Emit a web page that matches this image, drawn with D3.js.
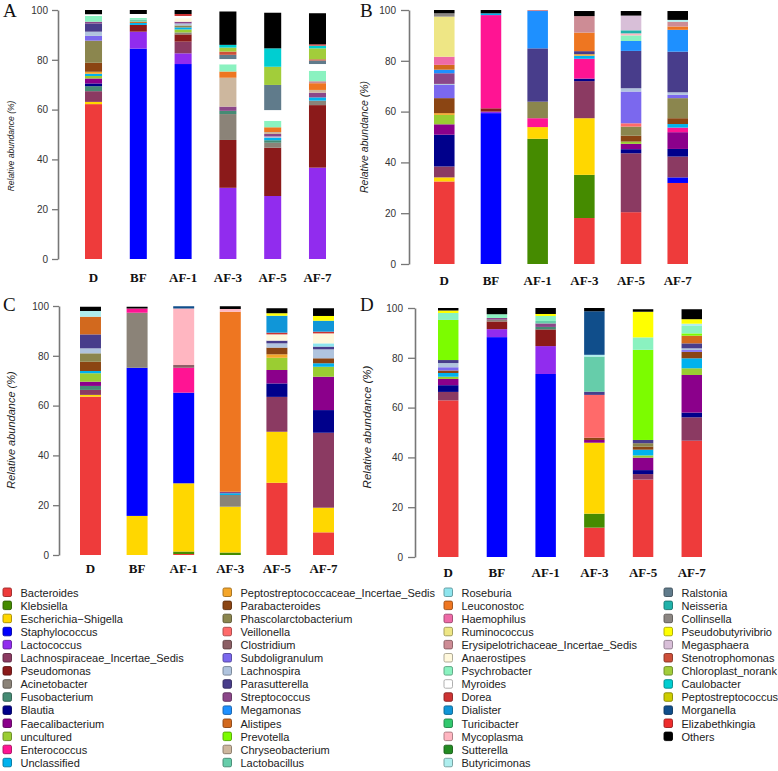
<!DOCTYPE html>
<html><head><meta charset="utf-8">
<script src="https://cdn.jsdelivr.net/npm/d3@7"></script>
<style>body{margin:0;background:#fff}svg{display:block}</style>
</head><body>
<svg id="c" width="778" height="771"></svg>
<script>
const samples = ["D","BF","AF-1","AF-3","AF-5","AF-7"];
const taxa = ["Bacteroides","Klebsiella","Escherichia-Shigella","Staphylococcus","Lactococcus","Lachnospiraceae_Incertae_Sedis","Pseudomonas","Acinetobacter","Fusobacterium","Blautia","Faecalibacterium","uncultured","Enterococcus","Unclassified",
"Peptostreptococcaceae_Incertae_Sedis","Parabacteroides","Phascolarctobacterium","Veillonella","Clostridium","Subdoligranulum","Lachnospira","Parasutterella","Streptococcus","Megamonas","Alistipes","Prevotella","Chryseobacterium","Lactobacillus",
"Roseburia","Leuconostoc","Haemophilus","Ruminococcus","Erysipelotrichaceae_Incertae_Sedis","Anaerostipes","Psychrobacter","Myroides","Dorea","Dialister","Turicibacter","Mycoplasma","Sutterella","Butyricimonas",
"Ralstonia","Neisseria","Collinsella","Pseudobutyrivibrio","Megasphaera","Stenotrophomonas","Chloroplast_norank","Caulobacter","Peptostreptococcus","Morganella","Elizabethkingia","Others"];
const taxaColors = ["#EE3B3B","#458B00","#FFD700","#0000FF","#912CEE","#8B3A62","#8B1A1A","#8B8378","#458B74","#00008B","#8B008B","#9ACD32","#FF1493","#00B2EE",
"#F4A62A","#8B4513","#8B864E","#FF6A6A","#8B5F65","#7B68EE","#B0C4DE","#483D8B","#8B4789","#1E90FF","#D2691E","#7CFC00","#CDB79E","#66CDAA",
"#8EE5EE","#EE7621","#EE6AA7","#EEE685","#CD8C95","#FFF8DC","#8AF2C0","#FFFFFF","#CD3333","#1096D8","#32C86E","#FFB6C1","#228B22","#AEEEEE",
"#607B8B","#20B2AA","#8B8682","#FFFF00","#D8BFD8","#CD4F39","#A2CD3A","#00CED1","#CDCD00","#104E8B","#EE2C2C","#000000"];
const yTicks = [0,20,40,60,80,100];

// Panel A: one list per sample (D, BF, AF-1, AF-3, AF-5, AF-7)
const panelA = [
 [["Bacteroides",62.2],["Escherichia-Shigella",0.9],["Lachnospiraceae_Incertae_Sedis",4.3],["Fusobacterium",2.0],["Blautia",1.1],["Faecalibacterium",2.0],["uncultured",1.0],["Unclassified",0.9],["Peptostreptococcaceae_Incertae_Sedis",0.8],["Parabacteroides",3.6],["Phascolarctobacterium",8.9],["Subdoligranulum",1.9],["Lachnospira",1.7],["Parasutterella",3.3],["Streptococcus",0.7],["Psychrobacter",2.3],["Myroides",0.7],["Others",1.7]],
 [["Staphylococcus",84.5],["Lactococcus",6.8],["Pseudomonas",2.7],["Unclassified",0.8],["Alistipes",0.5],["Lactobacillus",0.9],["Psychrobacter",0.6],["Myroides",1.6],["Others",1.6]],
 [["Staphylococcus",78.3],["Lactococcus",4.3],["Lachnospiraceae_Incertae_Sedis",4.7],["Pseudomonas",2.9],["Acinetobacter",0.8],["uncultured",1.2],["Unclassified",0.8],["Phascolarctobacterium",0.8],["Lachnospira",0.8],["Streptococcus",0.7],["Anaerostipes",1.4],["Myroides",0.9],["Dorea",0.8],["Others",1.6]],
 [["Lactococcus",28.6],["Pseudomonas",19.2],["Acinetobacter",10.4],["Fusobacterium",1.3],["Streptococcus",1.7],["Chryseobacterium",11.6],["Leuconostoc",2.5],["Psychrobacter",2.9],["Myroides",2.1],["Ralstonia",1.7],["Stenotrophomonas",1.3],["Chloroplast_norank",1.6],["Caulobacter",1.1],["Others",13.4]],
 [["Lactococcus",25.3],["Pseudomonas",19.4],["Acinetobacter",2.0],["Fusobacterium",1.0],["Unclassified",0.9],["Lachnospira",0.6],["Streptococcus",1.0],["Chryseobacterium",0.8],["Leuconostoc",1.9],["Psychrobacter",2.6],["Myroides",4.3],["Ralstonia",10.1],["Chloroplast_norank",7.3],["Caulobacter",7.4],["Others",14.3]],
 [["Lactococcus",36.7],["Pseudomonas",25.1],["Acinetobacter",1.8],["Unclassified",1.3],["Streptococcus",1.9],["Chryseobacterium",1.1],["Leuconostoc",2.7],["Erysipelotrichaceae_Incertae_Sedis",0.8],["Psychrobacter",4.2],["Myroides",2.7],["Ralstonia",1.4],["Stenotrophomonas",0.5],["Chloroplast_norank",4.4],["Caulobacter",1.1],["Elizabethkingia",0.5],["Others",12.5]]
];
const panelB = [
 [["Bacteroides",32.5],["Escherichia-Shigella",1.6],["Lachnospiraceae_Incertae_Sedis",4.3],["Blautia",12.5],["Faecalibacterium",4.1],["uncultured",3.7],["Peptostreptococcaceae_Incertae_Sedis",0.7],["Parabacteroides",5.9],["Subdoligranulum",5.2],["Lachnospira",0.4],["Streptococcus",4.2],["Megamonas",1.4],["Alistipes",1.9],["Haemophilus",3.2],["Ruminococcus",15.8],["Collinsella",1.3],["Others",1.3]],
 [["Staphylococcus",59.4],["Lactococcus",0.6],["Pseudomonas",1.3],["Enterococcus",36.7],["Unclassified",0.7],["Others",1.3]],
 [["Klebsiella",49.3],["Escherichia-Shigella",4.6],["Enterococcus",3.5],["Phascolarctobacterium",6.5],["Parasutterella",21.0],["Megamonas",14.7],["Erysipelotrichaceae_Incertae_Sedis",0.4]],
 [["Bacteroides",18.1],["Klebsiella",17.0],["Escherichia-Shigella",22.3],["Lachnospiraceae_Incertae_Sedis",14.6],["Blautia",1.0],["Enterococcus",7.8],["Unclassified",1.2],["Peptostreptococcaceae_Incertae_Sedis",0.6],["Parasutterella",1.2],["Leuconostoc",7.3],["Erysipelotrichaceae_Incertae_Sedis",6.5],["Others",2.0]],
 [["Bacteroides",20.4],["Lachnospiraceae_Incertae_Sedis",23.2],["Blautia",1.6],["Faecalibacterium",2.1],["uncultured",0.9],["Parabacteroides",2.3],["Phascolarctobacterium",3.6],["Veillonella",1.3],["Subdoligranulum",12.5],["Lachnospira",1.3],["Parasutterella",14.7],["Megamonas",3.9],["Psychrobacter",2.2],["Mycoplasma",0.8],["Neisseria",1.2],["Megasphaera",5.8],["Others",1.8]],
 [["Bacteroides",31.9],["Staphylococcus",2.2],["Lachnospiraceae_Incertae_Sedis",8.2],["Blautia",3.0],["Faecalibacterium",6.6],["Enterococcus",1.8],["Unclassified",1.4],["Parabacteroides",2.3],["Phascolarctobacterium",7.9],["Subdoligranulum",1.3],["Lachnospira",1.0],["Parasutterella",16.0],["Megamonas",8.6],["Leuconostoc",1.3],["Erysipelotrichaceae_Incertae_Sedis",1.9],["Butyricimonas",0.7],["Others",3.5]]
];
const panelC = [
 [["Bacteroides",63.6],["Escherichia-Shigella",0.7],["Lachnospiraceae_Incertae_Sedis",2.0],["Fusobacterium",1.6],["Faecalibacterium",1.7],["uncultured",3.4],["Unclassified",0.9],["Parabacteroides",3.7],["Phascolarctobacterium",3.4],["Lachnospira",2.0],["Parasutterella",5.6],["Alistipes",7.1],["Butyricimonas",2.3],["Others",1.7]],
 [["Escherichia-Shigella",15.7],["Staphylococcus",59.5],["Acinetobacter",22.1],["Enterococcus",1.7],["Others",0.7]],
 [["Bacteroides",0.4],["Klebsiella",1.0],["Escherichia-Shigella",27.4],["Staphylococcus",36.4],["Enterococcus",10.0],["Clostridium",1.1],["Mycoplasma",22.7],["Morganella",0.9]],
 [["Klebsiella",1.0],["Escherichia-Shigella",18.4],["Acinetobacter",4.7],["Unclassified",0.7],["Streptococcus",0.6],["Leuconostoc",72.3],["Mycoplasma",1.1],["Others",1.1]],
 [["Bacteroides",29.0],["Escherichia-Shigella",20.5],["Lachnospiraceae_Incertae_Sedis",14.0],["Blautia",5.4],["Faecalibacterium",5.4],["uncultured",4.9],["Peptostreptococcaceae_Incertae_Sedis",1.4],["Parabacteroides",2.7],["Lachnospira",1.7],["Parasutterella",1.1],["Anaerostipes",2.5],["Dorea",0.7],["Dialister",6.8],["Pseudobutyrivibrio",1.0],["Others",2.0]],
 [["Bacteroides",9.1],["Escherichia-Shigella",9.9],["Lachnospiraceae_Incertae_Sedis",30.1],["Blautia",9.1],["Faecalibacterium",13.4],["uncultured",4.0],["Unclassified",1.4],["Parabacteroides",2.0],["Lachnospira",3.6],["Parasutterella",1.1],["Roseburia",1.3],["Anaerostipes",4.0],["Dorea",0.7],["Dialister",4.4],["Pseudobutyrivibrio",1.9],["Others",3.1]]
];
const panelD = [
 [["Bacteroides",62.9],["Lachnospiraceae_Incertae_Sedis",3.4],["Blautia",2.7],["Faecalibacterium",2.5],["uncultured",0.9],["Unclassified",1.5],["Parabacteroides",1.0],["Subdoligranulum",1.3],["Lachnospira",1.7],["Parasutterella",1.2],["Prevotella",16.1],["Psychrobacter",2.8],["Pseudobutyrivibrio",1.0],["Others",1.0]],
 [["Staphylococcus",88.3],["Lactococcus",3.2],["Pseudomonas",3.1],["Acinetobacter",0.7],["Streptococcus",0.7],["Psychrobacter",1.5],["Others",2.5]],
 [["Staphylococcus",73.5],["Lactococcus",11.2],["Pseudomonas",6.7],["Fusobacterium",1.0],["Streptococcus",1.4],["Lactobacillus",1.0],["Psychrobacter",2.0],["Pseudobutyrivibrio",0.8],["Others",2.4]],
 [["Bacteroides",11.8],["Klebsiella",5.6],["Escherichia-Shigella",28.5],["Faecalibacterium",1.1],["Parabacteroides",0.9],["Veillonella",17.2],["Parasutterella",1.3],["Lactobacillus",14.1],["Butyricimonas",0.7],["Morganella",17.5],["Others",1.3]],
 [["Bacteroides",31.1],["Lachnospiraceae_Incertae_Sedis",2.2],["Blautia",1.6],["Faecalibacterium",5.0],["uncultured",0.9],["Unclassified",2.3],["Parabacteroides",1.2],["Phascolarctobacterium",1.4],["Parasutterella",1.3],["Prevotella",36.2],["Psychrobacter",5.0],["Pseudobutyrivibrio",10.3],["Others",1.0]],
 [["Bacteroides",46.7],["Lachnospiraceae_Incertae_Sedis",9.4],["Blautia",1.9],["Faecalibacterium",15.1],["uncultured",2.7],["Unclassified",4.0],["Parabacteroides",2.6],["Subdoligranulum",0.7],["Lachnospira",0.7],["Parasutterella",2.0],["Alistipes",3.1],["Prevotella",0.9],["Psychrobacter",3.0],["Butyricimonas",0.9],["Pseudobutyrivibrio",1.8],["Others",4.0]]
];

const color = d3.scaleOrdinal().domain(taxa).range(taxaColors);
const svg = d3.select("#c");

const layouts = [
 {data: panelA, letter:"A", lx:3, ly:17, ax:58, yTop:10, yBot:259, x0:85, x1:326, pI:0.62, labY:282, ylx:14, yly:146, yls:8.5, tick:6, pad:4},
 {data: panelB, letter:"B", lx:360, ly:17, ax:409, yTop:10, yBot:264, x0:434, x1:688, pI:0.56, labY:285, ylx:368, yly:137, yls:10.5, tick:8, pad:5},
 {data: panelC, letter:"C", lx:3, ly:311, ax:59, yTop:306, yBot:555, x0:80, x1:334, pI:0.55, labY:573, ylx:15, yly:430, yls:11, tick:6, pad:4},
 {data: panelD, letter:"D", lx:360, ly:311, ax:415, yTop:308, yBot:557, x0:438, x1:702, pI:0.58, labY:577, ylx:371, yly:427, yls:11.5, tick:7, pad:5}
];

layouts.forEach(L => {
  const rows = samples.map((s, i) => {
    const r = {sample: s};
    taxa.forEach(t => r[t] = 0);
    L.data[i].forEach(([t, v]) => r[t] = v);
    return r;
  });
  const series = d3.stack().keys(taxa)(rows);
  const x = d3.scaleBand().domain(samples).range([L.x0, L.x1]).paddingInner(L.pI).paddingOuter(0);
  const y = d3.scaleLinear().domain([0, 100]).range([L.yBot, L.yTop]);
  const g = svg.append("g");
  g.selectAll("g.s").data(series).join("g").attr("fill", d => color(d.key))
    .selectAll("rect").data(d => d.filter(p => p[1] - p[0] > 0)).join("rect")
    .attr("x", d => x(d.data.sample)).attr("width", x.bandwidth())
    .attr("y", d => y(d[1])).attr("height", d => y(d[0]) - y(d[1]));
  const axis = g.append("g").attr("transform", `translate(${L.ax},0)`)
    .call(d3.axisLeft(y).tickValues(yTicks).tickSize(L.tick).tickSizeOuter(0).tickPadding(L.pad));
  axis.select(".domain").attr("stroke", "#777").attr("stroke-width", 1.6);
  axis.selectAll(".tick line").attr("stroke", "#777").attr("stroke-width", 1.3);
  axis.selectAll(".tick text").attr("fill", "#333").style("font-family", "Liberation Sans, Arial, sans-serif").style("font-size", "10px");
  g.selectAll("text.xl").data(samples).join("text").attr("class", "xl")
    .attr("x", d => x(d) + x.bandwidth() / 2).attr("y", L.labY).attr("text-anchor", "middle")
    .style("font-family", "Liberation Serif, Times New Roman, serif").style("font-weight", "bold").style("font-size", "13px")
    .attr("fill", "#111").text(d => d);
  g.append("text").attr("transform", `translate(${L.ylx},${L.yly}) rotate(-90)`).attr("text-anchor", "middle")
    .style("font-family", "Liberation Sans, Arial, sans-serif").style("font-style", "italic").style("font-size", L.yls + "px")
    .attr("fill", "#222").text("Relative abundance (%)");
  g.append("text").attr("x", L.lx).attr("y", L.ly)
    .style("font-family", "Liberation Serif, Times New Roman, serif").style("font-size", "19px").attr("fill", "#111").text(L.letter);
});

// Legend
const colX = [3, 223, 444, 664];
const perCol = 14;
const leg = svg.append("g");
taxa.forEach((t, i) => {
  const c = Math.floor(i / perCol), r = i % perCol;
  const cy = 592.5 + r * 13.1;
  leg.append("rect").attr("x", colX[c]).attr("y", cy - 4.5).attr("width", 8.5).attr("height", 8.5).attr("rx", 1.5)
    .attr("fill", color(t)).attr("stroke", d3.color(color(t)).darker(1.2)).attr("stroke-width", 0.9);
  leg.append("text").attr("x", colX[c] + 17.5).attr("y", cy + 4)
    .style("font-family", "Liberation Sans, Arial, sans-serif").style("font-size", "11px").attr("fill", "#222")
    .text(t.replace("-", "\u2212"));
});
</script>
</body></html>
